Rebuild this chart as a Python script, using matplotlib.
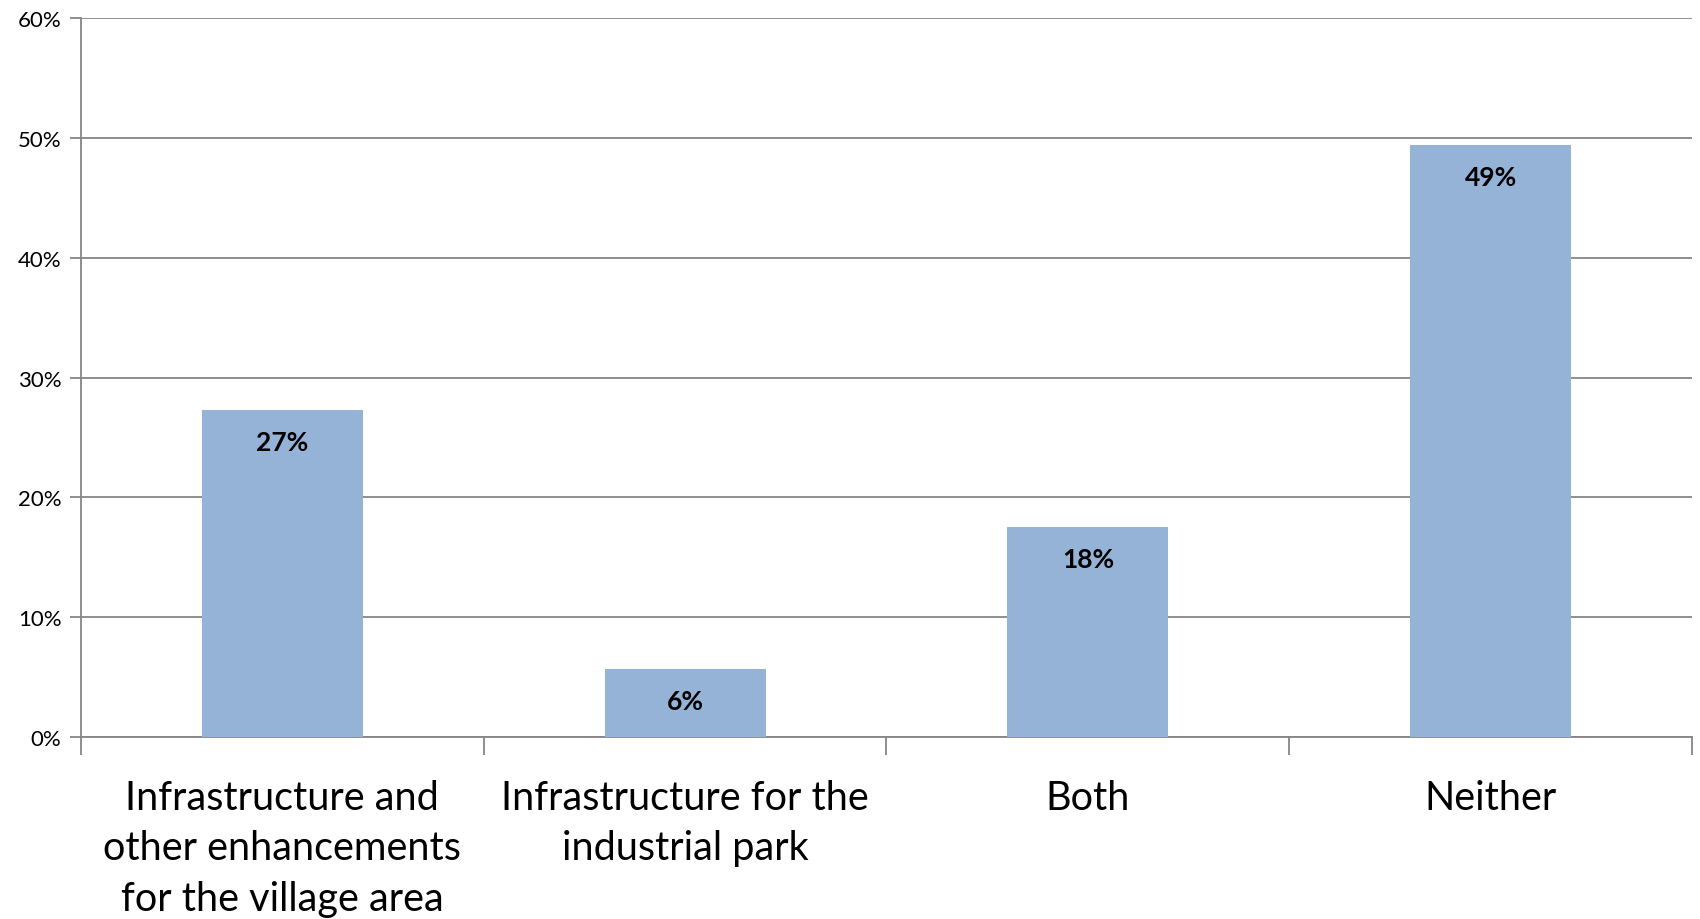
import matplotlib
matplotlib.use("Agg")
import matplotlib.pyplot as plt
import numpy as np
from matplotlib.ticker import PercentFormatter, FixedLocator

categories = ["Infrastructure and\nother enhancements\nfor the village area",
              "Infrastructure for the\nindustrial park",
              "Both",
              "Neither"]
values = [27.3, 5.7, 17.5, 49.4]
value_labels = ["27%", "6%", "18%", "49%"]

plt.rcParams['font.family'] = ['Lato', 'DejaVu Sans']

fig = plt.figure(figsize=(17, 9.2), dpi=100)
ax = fig.add_axes([0.0476, 0.198, 0.9477, 0.781])

x = np.arange(len(categories))
bars = ax.bar(x, values, width=0.4, color='#95B3D7', zorder=3)

for b, lab in zip(bars, value_labels):
    ax.annotate(lab, (b.get_x() + b.get_width() / 2, b.get_height()),
                xytext=(0, -32), textcoords='offset pixels',
                ha='center', va='center', fontsize=19, fontweight='bold', zorder=4)

ax.set_xlim(-0.5, len(categories) - 0.5)
ax.set_ylim(0, 60)
ax.set_yticks(np.arange(0, 61, 10))
ax.yaxis.set_major_formatter(PercentFormatter(decimals=0))
ax.grid(axis='y', color='#868686', linewidth=1.3, zorder=0)

# category boundary ticks, labels centred under bars
ax.set_xticks(x)
ax.set_xticklabels(categories, fontsize=28.5, linespacing=1.45, va='top')
ax.tick_params(axis='x', length=0, pad=30)
ax.xaxis.set_minor_locator(FixedLocator(np.arange(-0.5, len(categories), 1.0)))
ax.tick_params(axis='x', which='minor', length=13, width=1.3, color='#868686', direction='out')
ax.tick_params(axis='y', length=8, width=1.3, color='#868686', labelsize=16, pad=6)

for s in ['top', 'right']:
    ax.spines[s].set_visible(False)
for s in ['left', 'bottom']:
    ax.spines[s].set_color('#868686')
    ax.spines[s].set_linewidth(1.3)

fig.savefig("out.png", dpi=100)
